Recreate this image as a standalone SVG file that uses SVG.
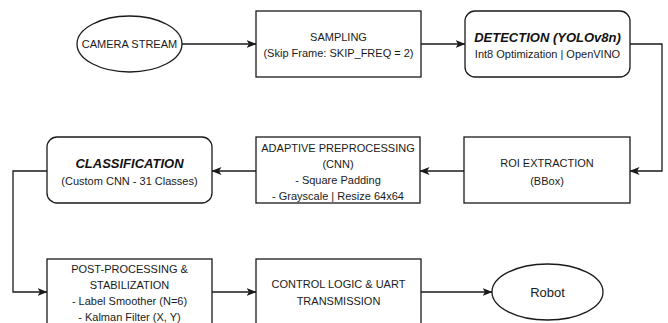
<svg xmlns="http://www.w3.org/2000/svg" width="668" height="323" viewBox="0 0 668 323">
  <style>
    .box { fill: #ffffff; stroke: #1a1a1a; stroke-width: 1.3; }
    .t { font-family: "Liberation Sans", Arial, sans-serif; font-size: 11px; fill: #1a1a1a; text-anchor: middle; dominant-baseline: central; }
    .title { font-family: "Liberation Sans", Arial, sans-serif; font-size: 13px; font-weight: bold; font-style: italic; fill: #111111; text-anchor: middle; dominant-baseline: central; }
    .edge { fill: none; stroke: #1a1a1a; stroke-width: 1.3; }
  </style>
  <defs>
    <marker id="arrow" viewBox="0 0 10 8" refX="9.5" refY="4" markerWidth="10" markerHeight="8" markerUnits="userSpaceOnUse" orient="auto">
      <path d="M0,0 L10,4 L0,8 L2.5,4 Z" fill="#1a1a1a"/>
    </marker>
  </defs>
  <rect width="668" height="323" fill="#ffffff"/>

  <g id="connectors">
    <path class="edge" d="M182,44 L256,44" marker-end="url(#arrow)"/>
    <path class="edge" d="M421,44 L465,44" marker-end="url(#arrow)"/>
    <path class="edge" d="M630,44 L662,44 L662,171 L630,171" marker-end="url(#arrow)"/>
    <path class="edge" d="M464,171 L420,171" marker-end="url(#arrow)"/>
    <path class="edge" d="M256,171 L212,171" marker-end="url(#arrow)"/>
    <path class="edge" d="M47,171 L13,171 L13,292 L47,292" marker-end="url(#arrow)"/>
    <path class="edge" d="M212,292 L256,292" marker-end="url(#arrow)"/>
    <path class="edge" d="M421,292 L492,292" marker-end="url(#arrow)"/>
  </g>

  <g id="camera-stream">
    <ellipse class="box" cx="129.5" cy="44" rx="52.5" ry="28"/>
    <text class="t" x="129.5" y="44">CAMERA STREAM</text>
  </g>

  <g id="sampling">
    <rect class="box" x="256" y="11" width="165" height="66"/>
    <text class="t" x="338.5" y="37">SAMPLING</text>
    <text class="t" x="338.5" y="53">(Skip Frame: SKIP_FREQ = 2)</text>
  </g>

  <g id="detection">
    <rect class="box" x="465" y="11" width="165" height="66" rx="10" ry="10"/>
    <text class="title" x="547.5" y="37">DETECTION (YOLOv8n)</text>
    <text class="t" x="547.5" y="54">Int8 Optimization | OpenVINO</text>
  </g>

  <g id="roi-extraction">
    <rect class="box" x="464" y="137" width="166" height="66"/>
    <text class="t" x="547" y="163">ROI EXTRACTION</text>
    <text class="t" x="547" y="181">(BBox)</text>
  </g>

  <g id="adaptive-preprocessing">
    <rect class="box" x="256" y="137" width="164" height="66"/>
    <text class="t" x="338" y="148">ADAPTIVE PREPROCESSING</text>
    <text class="t" x="338" y="164">(CNN)</text>
    <text class="t" x="338" y="180">- Square Padding</text>
    <text class="t" x="338" y="196">- Grayscale | Resize 64x64</text>
  </g>

  <g id="classification">
    <rect class="box" x="47" y="137" width="165" height="66" rx="10" ry="10"/>
    <text class="title" x="129.5" y="163">CLASSIFICATION</text>
    <text class="t" x="129.5" y="181">(Custom CNN - 31 Classes)</text>
  </g>

  <g id="post-processing">
    <rect class="box" x="47" y="259" width="165" height="80"/>
    <text class="t" x="129.5" y="269">POST-PROCESSING &amp;</text>
    <text class="t" x="129.5" y="285">STABILIZATION</text>
    <text class="t" x="129.5" y="301">- Label Smoother (N=6)</text>
    <text class="t" x="129.5" y="317">- Kalman Filter (X, Y)</text>
  </g>

  <g id="control-logic">
    <rect class="box" x="256" y="259" width="165" height="80"/>
    <text class="t" x="338.5" y="284">CONTROL LOGIC &amp; UART</text>
    <text class="t" x="338.5" y="301">TRANSMISSION</text>
  </g>

  <g id="robot">
    <ellipse class="box" cx="547.5" cy="292" rx="55.5" ry="28"/>
    <text class="t" x="547.5" y="292" style="font-size:13px">Robot</text>
  </g>
</svg>
